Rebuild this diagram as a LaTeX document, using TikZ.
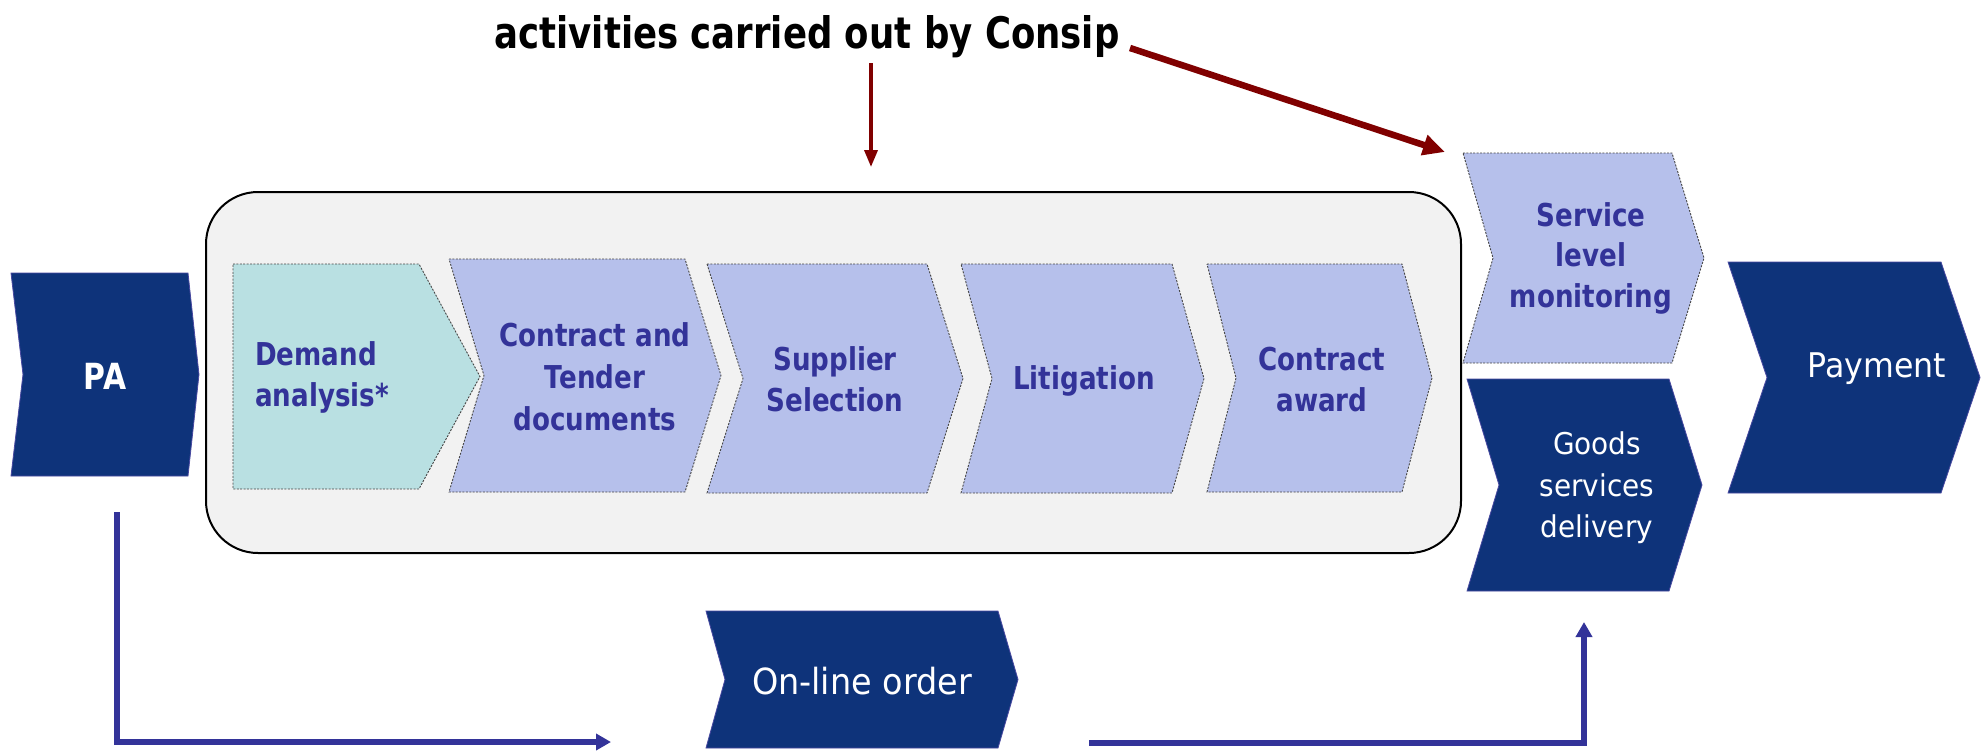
\documentclass[tikz,border=0pt]{standalone}
\usepackage{fontspec}
\usepackage{graphicx}
\usetikzlibrary{arrows.meta}

% Faces: a narrowed DejaVu Sans stands in for a Tahoma-like look
\newfontfamily\stepfont[FakeStretch=0.83]{DejaVu Sans}
\newfontfamily\whitefont[FakeStretch=0.93]{DejaVu Sans}
\newfontfamily\headfont{DejaVu Sans}

\definecolor{navy}{RGB}{14,51,122}
\definecolor{navyedge}{RGB}{72,72,160}
\definecolor{lilac}{RGB}{182,192,235}
\definecolor{teal}{RGB}{185,224,226}
\definecolor{ink}{RGB}{51,51,153}
\definecolor{maroon}{RGB}{128,0,0}
\definecolor{panelgray}{RGB}{242,242,242}
\definecolor{dotline}{RGB}{70,70,70}

\tikzset{
  darkstep/.style={fill=navy, draw=navyedge, line width=0.8pt},
  lightstep/.style={fill=lilac, draw=dotline, line width=0.9pt, dash pattern=on 2pt off 1.4pt},
  tealstep/.style={fill=teal, draw=dotline, line width=0.9pt, dash pattern=on 2pt off 1.4pt},
  lighttext/.style={text=ink, font=\stepfont\bfseries\fontsize{31.5}{41}\selectfont, align=center, inner sep=0pt},
  whitetext/.style={text=white, font=\whitefont\fontsize{30}{41.5}\selectfont, align=center, inner sep=0pt},
  flowarrow/.style={draw=ink, line width=5.5pt, -{Triangle[length=15pt,width=16pt]}},
  notethin/.style={draw=maroon, line width=3.5pt, -{Triangle[length=17pt,width=13pt]}},
  notethick/.style={draw=maroon, line width=6.5pt, -{Triangle[length=22pt,width=20pt]}},
}

% Chevron: name, style, left, top, right, bottom, tip depth, notch depth
\newcommand{\chevshape}[8]{%
  \path[#2] (#3,#4) -- (#5,#4) -- ({#5+#7},{(#4+#6)/2}) -- (#5,#6) -- (#3,#6)
    -- ({#3+#8},{(#4+#6)/2}) -- cycle;
  \coordinate (#1) at ({(#3+#5)/2},{(#4+#6)/2});
}

\begin{document}
\begin{tikzpicture}[x=1pt, y=-1pt]
\useasboundingbox (0,0) rectangle (1984,750);
\fill[white] (0,0) rectangle (1984,750);

% Panel grouping the Consip activities
\node[draw=black, line width=2pt, fill=panelgray, rounded corners=52pt,
      minimum width=1255pt, minimum height=361pt, inner sep=0pt] (panel) at (833.5,372.5) {};

% Process steps
\chevshape{pa}{darkstep}{11}{273}{188}{476}{11}{12}
\chevshape{demand}{tealstep}{233}{264}{419}{489}{61}{0}
\chevshape{tender}{lightstep}{449}{259}{685}{492}{36}{35}
\chevshape{supplier}{lightstep}{707}{264}{927}{493}{36}{36}
\chevshape{litigation}{lightstep}{961}{264}{1172}{493}{32}{31}
\chevshape{award}{lightstep}{1207}{264}{1402}{492}{30}{29}
\chevshape{service}{lightstep}{1463}{153}{1672}{363}{32}{30}
\chevshape{goods}{darkstep}{1467}{379}{1669}{591}{33}{32}
\chevshape{payment}{darkstep}{1728}{262}{1941}{493}{39}{39}
\chevshape{order}{darkstep}{706}{611}{998}{748}{20}{19}

% Step labels
\node[text=white, inner sep=0pt, anchor=base, font=\stepfont\bfseries\fontsize{36}{40}\selectfont] (pa-t) at (105,389) {PA};
\node[lighttext, align=left, anchor=west] (demand-t) at (255,377) {Demand\\analysis*};
\node[lighttext, font=\stepfont\bfseries\fontsize{31.5}{42}\selectfont] (tender-t) at (595,377) {Contract and\\Tender\\documents};
\node[lighttext] (supplier-t) at (835,379) {Supplier\\Selection};
\node[lighttext, anchor=base] (litigation-t) at (1084,389) {Litigation};
\node[lighttext] (award-t) at (1322,380) {Contract\\award};
\node[lighttext, font=\stepfont\bfseries\fontsize{31.5}{40.5}\selectfont] (service-t) at (1591,258) {Service\\level\\monitoring};
\node[whitetext] (goods-t) at (1597,488) {Goods\\services\\delivery};
\node[whitetext, anchor=base, font=\whitefont\fontsize{34}{40}\selectfont] (payment-t) at (1877,377) {Payment};
\node[whitetext, anchor=base, font=\whitefont\fontsize{36}{40}\selectfont] (order-t) at (862,694) {On-line order};

% Heading
\node[anchor=base, inner sep=0pt] (head) at (807,48)
  {\resizebox{625pt}{33pt}{\headfont\bfseries activities carried out by Consip}};

% Connector ends
\coordinate (pa-out) at (117,512);
\coordinate (order-in) at (611,742);
\coordinate (order-out) at (1089,743);
\coordinate (goods-in) at (1584,622);
\coordinate (head-down) at (871,63);
\coordinate (panel-in) at (871,167);
\coordinate (head-right) at (1130,48);
\coordinate (service-in) at (1445,152);

% Connectors
\draw[flowarrow] (pa-out) |- (order-in);
\draw[flowarrow] (order-out) -| (goods-in);
\draw[notethin] (head-down) -- (panel-in);
\draw[notethick] (head-right) -- (service-in);
\end{tikzpicture}
\end{document}
